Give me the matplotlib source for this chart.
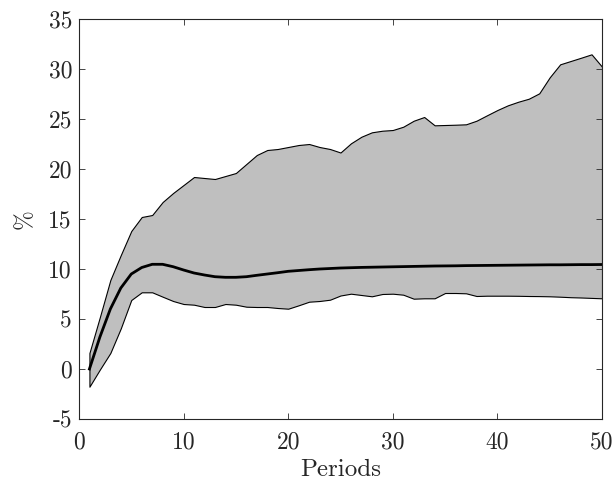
import numpy as np
import matplotlib
matplotlib.use("Agg")
import matplotlib.pyplot as plt

# periods 1..50
periods = np.arange(1, 51)

upper = [1.6, 5.2, 8.9, 11.4, 13.8, 15.2, 15.4, 16.7, 17.6, 18.4,
         19.2, 19.1, 19.0, 19.3, 19.6, 20.5, 21.4, 21.9, 22.0, 22.2,
         22.4, 22.5, 22.2, 22.0, 21.65, 22.57, 23.23, 23.67, 23.83, 23.9,
         24.23, 24.83, 25.2, 24.37, 24.4, 24.43, 24.47, 24.83, 25.37, 25.9,
         26.37, 26.73, 27.03, 27.57, 29.17, 30.47, 30.8, 31.13, 31.47, 30.23]

lower = [-1.77, -0.05, 1.6, 4.07, 6.9, 7.67, 7.67, 7.23, 6.8, 6.5,
         6.43, 6.2, 6.2, 6.5, 6.43, 6.23, 6.2, 6.2, 6.1, 6.03,
         6.37, 6.73, 6.8, 6.93, 7.35, 7.53, 7.4, 7.27, 7.5, 7.53,
         7.43, 7.03, 7.07, 7.07, 7.6, 7.6, 7.57, 7.3, 7.33, 7.33,
         7.33, 7.32, 7.3, 7.29, 7.27, 7.23, 7.18, 7.15, 7.11, 7.07]

mean = [0.0, 3.2, 6.0, 8.1, 9.5, 10.15, 10.47, 10.47, 10.23, 9.9,
        9.6, 9.4, 9.23, 9.17, 9.17, 9.23, 9.37, 9.5, 9.63, 9.77,
        9.85, 9.93, 10.0, 10.05, 10.1, 10.13, 10.16, 10.18, 10.2, 10.22,
        10.24, 10.26, 10.28, 10.3, 10.31, 10.32, 10.34, 10.35, 10.36, 10.37,
        10.38, 10.39, 10.4, 10.41, 10.42, 10.42, 10.43, 10.44, 10.44, 10.45]

plt.rcParams["font.family"] = "cmr10"
plt.rcParams["mathtext.fontset"] = "cm"
plt.rcParams["axes.unicode_minus"] = False
plt.rcParams["axes.formatter.use_mathtext"] = False

fig = plt.figure(figsize=(6.16, 4.84), dpi=100)
ax = fig.add_axes([0.1282, 0.1343, 0.8491, 0.8264])

ax.fill_between(periods, lower, upper, facecolor=(0.75, 0.75, 0.75),
                edgecolor="black", linewidth=0.8)
ax.plot(periods, mean, color="black", linewidth=2.0)

ax.set_xlim(0, 50)
ax.set_ylim(-5, 35)
ax.set_xticks(np.arange(0, 51, 10))
ax.set_yticks(np.arange(-5, 36, 5))
ax.tick_params(direction="in", top=True, right=True, labelsize=17,
               length=4, width=0.6, colors="#262626")
ax.tick_params(axis="y", pad=5)
ax.tick_params(axis="x", pad=9)
for sp in ax.spines.values():
    sp.set_linewidth(0.8)
    sp.set_color("#262626")

ax.set_xlabel("Periods", fontsize=18, labelpad=4, color="#262626")
ax.set_ylabel("%", fontsize=17, labelpad=9, color="#262626")

fig.savefig("out.png", dpi=100)
